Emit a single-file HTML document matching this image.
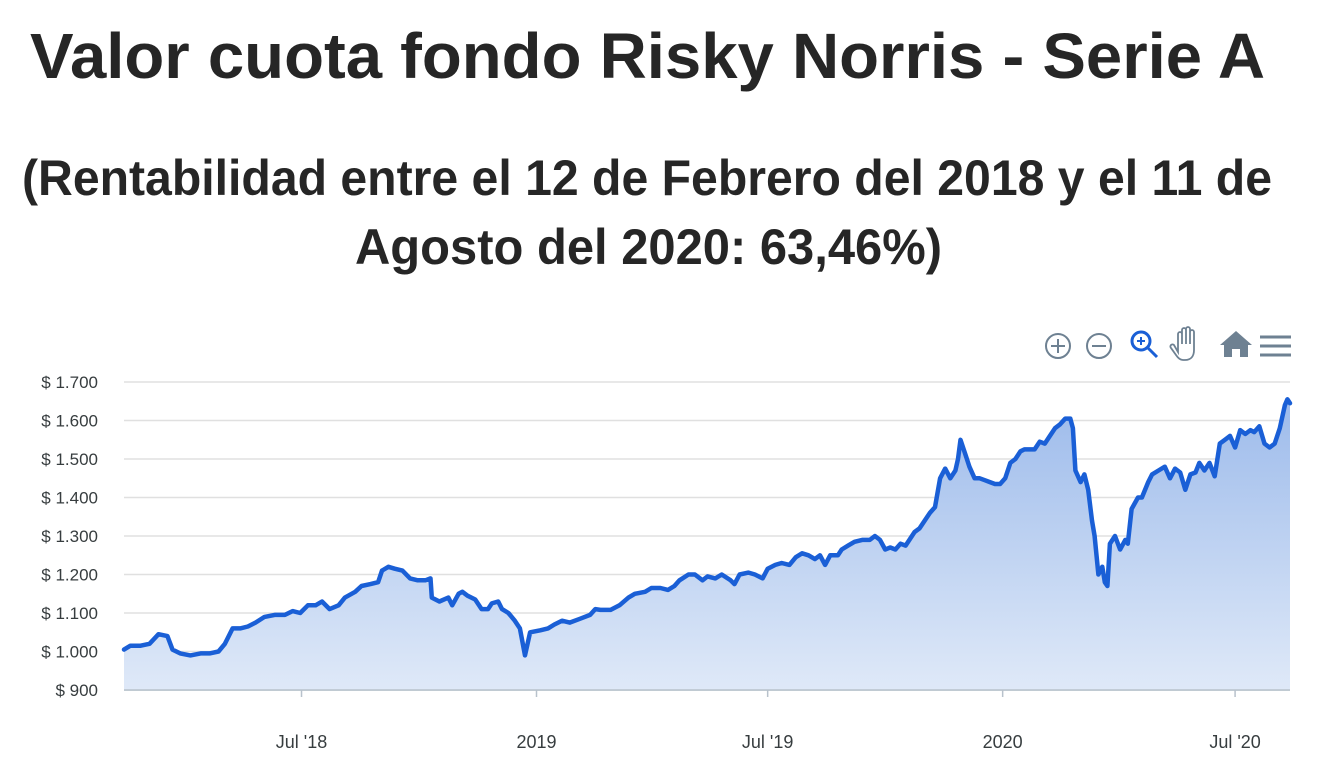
<!DOCTYPE html>
<html><head><meta charset="utf-8"><style>
html,body{margin:0;padding:0;background:#fff;}
svg{display:block;font-family:"Liberation Sans",sans-serif;}
</style></head><body>
<svg id="chart" width="1324" height="774" viewBox="0 0 1324 774" xmlns="http://www.w3.org/2000/svg">
<defs>
<linearGradient id="fillGrad" x1="0" y1="0" x2="0" y2="1">
<stop offset="0" stop-color="#9dbbeb"/><stop offset="1" stop-color="#dfe9f8"/>
</linearGradient>
</defs>
<text x="30" y="78" font-size="64" font-weight="bold" fill="#262626" textLength="1235" lengthAdjust="spacingAndGlyphs">Valor cuota fondo Risky Norris - Serie A</text>
<text x="22" y="195" font-size="50" font-weight="bold" fill="#262626" textLength="1250" lengthAdjust="spacingAndGlyphs">(Rentabilidad entre el 12 de Febrero del 2018 y el 11 de</text>
<text x="355" y="264" font-size="50" font-weight="bold" fill="#262626" textLength="587" lengthAdjust="spacingAndGlyphs">Agosto del 2020: 63,46%)</text>
<g id="toolbar">
<g fill="none" stroke="#6e8192" stroke-width="2"><circle cx="1058" cy="346" r="12"/><path d="M1051 346h14M1058 339v14"/></g>
<g fill="none" stroke="#6e8192" stroke-width="2"><circle cx="1099" cy="346" r="12"/><path d="M1092 346h14"/></g>
<g fill="none" stroke="#1a5fd6" stroke-width="3"><circle cx="1141" cy="341" r="9"/><path d="M1148 348l9 9"/><path d="M1137 341h8M1141 337v8" stroke-width="2"/></g>
<g fill="none" stroke="#6e8192" stroke-width="1.8"><path d="M1178 352v-18a2 2 0 0 1 4 0v10v-14a2 2 0 0 1 4 0v14v-15a2 2 0 0 1 4 0v15v-12a2 2 0 0 1 4 0v18c0 6-3 10-9 10h-2c-3 0-5-2-7-5l-5-7a2 2 0 0 1 3-3z"/></g>
<path d="M1236 331l-16 14h4v12h8v-8h8v8h8v-12h4z" fill="#6e8192"/>
<g stroke="#6e8192" stroke-width="3"><path d="M1260 337h31M1260 346h31M1260 355h31"/></g>
</g>
<g id="grid"></g>
<g id="yaxis"></g>
<g id="series"></g>
<g id="xaxis"></g>
</svg>
<script>
const days = [0,5,13,20,27,34,38,44,52,60,67,74,79,85,91,97,103,110,118,126,132,138,144,150,155,161,168,173,181,186,193,199,202,207,212,218,224,230,236,240,241,247,254,257,262,265,269,275,280,285,288,293,296,301,306,310,314,318,326,332,337,343,349,357,365,369,373,381,388,395,400,408,413,420,426,431,435,442,447,453,457,463,468,475,478,482,489,494,500,504,510,515,521,526,531,536,541,545,549,553,559,562,567,572,578,584,588,592,596,600,604,608,612,615,619,623,627,631,635,639,643,647,651,653,655,659,662,666,670,674,678,682,686,690,694,698,702,705,709,713,717,721,725,729,733,737,741,743,745,749,752,755,758,760,763,766,768,770,772,776,780,784,786,789,794,797,802,805,810,815,819,823,827,831,835,839,842,846,850,854,858,862,866,870,874,878,882,885,889,893,897,901,905,909,911,913];
const values = [1005,1015,1015,1020,1045,1040,1005,995,990,995,995,1000,1020,1060,1060,1065,1075,1090,1095,1095,1105,1100,1120,1120,1130,1110,1120,1140,1155,1170,1175,1180,1210,1220,1215,1210,1190,1185,1185,1190,1140,1130,1140,1120,1150,1155,1145,1135,1110,1110,1125,1130,1110,1100,1080,1060,990,1050,1055,1060,1070,1080,1075,1085,1095,1110,1108,1108,1120,1140,1150,1155,1165,1165,1160,1170,1185,1200,1200,1185,1195,1190,1200,1185,1175,1200,1205,1200,1190,1215,1225,1230,1225,1245,1255,1250,1240,1250,1225,1250,1250,1265,1275,1285,1290,1290,1300,1290,1265,1270,1265,1280,1275,1290,1310,1320,1340,1360,1375,1450,1475,1450,1470,1500,1550,1510,1480,1450,1450,1445,1440,1435,1435,1450,1490,1500,1520,1525,1525,1525,1545,1540,1560,1580,1590,1605,1605,1580,1470,1440,1460,1420,1340,1300,1200,1220,1180,1170,1280,1300,1265,1290,1280,1370,1400,1400,1440,1460,1470,1480,1450,1475,1465,1420,1460,1465,1490,1470,1490,1455,1540,1550,1560,1530,1575,1565,1575,1570,1585,1540,1530,1540,1580,1640,1655,1645];
const yTicks = [900,1000,1100,1200,1300,1400,1500,1600,1700];
const yTickLabels = ["$ 900","$ 1.000","$ 1.100","$ 1.200","$ 1.300","$ 1.400","$ 1.500","$ 1.600","$ 1.700"];
const xTickDays = [139,323,504,688,870];
const xTickLabels = ["Jul '18","2019","Jul '19","2020","Jul '20"];

const X0=124, X1=1290, Y0=690, Y1=382, DMAX=913, VMIN=900, VMAX=1700;
const xs = d => X0 + d/DMAX*(X1-X0);
const ys = v => Y0 - (v-VMIN)/(VMAX-VMIN)*(Y0-Y1);
const NS="http://www.w3.org/2000/svg";
function mk(tag, attrs, parent){const e=document.createElementNS(NS,tag);for(const k in attrs)e.setAttribute(k,attrs[k]);parent.appendChild(e);return e;}
const grid=document.getElementById('grid'), yax=document.getElementById('yaxis'), xax=document.getElementById('xaxis'), ser=document.getElementById('series');
yTicks.forEach((t,i)=>{
  const l=mk('line',{x1:X0,x2:X1,y1:ys(t),y2:ys(t),stroke:i===0?'#b8c2cc':'#e0e0e0','stroke-width':1.5},grid);
  
  
  const tx=mk('text',{x:98,y:ys(t)+6,'text-anchor':'end','font-size':17,fill:'#373d3f'},yax);
  tx.textContent=yTickLabels[i];
  
  
});
let pts=days.map((d,i)=>xs(d).toFixed(1)+','+ys(values[i]).toFixed(1));
const area=mk('path',{d:'M'+xs(days[0])+','+Y0+' L'+pts.join(' L')+' L'+xs(days[days.length-1])+','+Y0+' Z',fill:'url(#fillGrad)'},ser);


const line=mk('path',{d:'M'+pts.join(' L'),fill:'none',stroke:'#1a5fd6','stroke-width':4.5,'stroke-linejoin':'round','stroke-linecap':'round'},ser);


const base=mk('line',{x1:X0,x2:X1,y1:Y0,y2:Y0,stroke:'#b8c2cc','stroke-width':1.5},xax);


xTickDays.forEach((d,i)=>{
  const tk=mk('line',{x1:xs(d),x2:xs(d),y1:Y0,y2:Y0+7,stroke:'#b8c2cc','stroke-width':1.5},xax);
  
  
  const tx=mk('text',{x:xs(d),y:748,'text-anchor':'middle','font-size':18,fill:'#373d3f'},xax);
  tx.textContent=xTickLabels[i];
  
  
});
</script>
</body></html>
